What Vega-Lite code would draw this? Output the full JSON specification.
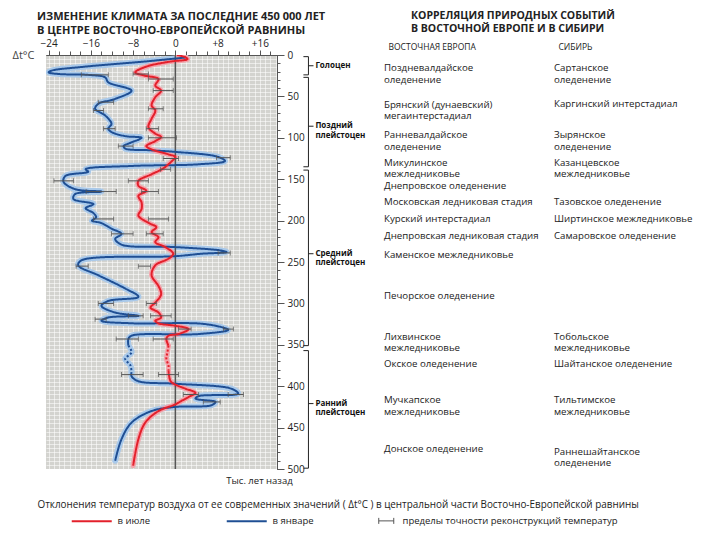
{
  "$schema": "https://vega.github.io/schema/vega-lite/v6.json",
  "background": "white",
  "padding": {"left": 12, "top": 10, "right": 5, "bottom": 5},
  "bounds": "flush",
  "spacing": 22,
  "config": {
    "font": "Open Sans",
    "view": {"stroke": null},
    "axis": {"labelFont": "Open Sans", "titleFont": "Open Sans", "domainColor": "#555", "tickColor": "#555", "labelColor": "#222", "titleColor": "#222"},
    "title": {"font": "Open Sans", "color": "#222"},
    "legend": {"labelFont": "Open Sans", "labelColor": "#222"}
  },
  "datasets": {
    "curves": [
      {"s": "в январе", "a": 3, "t": 2.0, "p": 1}, {"s": "в январе", "a": 8, "t": -6, "p": 1}, {"s": "в январе", "a": 14, "t": -17, "p": 1}, {"s": "в январе", "a": 19, "t": -23.5, "p": 1}, {"s": "в январе", "a": 21, "t": -24, "p": 1}, {"s": "в январе", "a": 23, "t": -22, "p": 1}, {"s": "в январе", "a": 24, "t": -16.5, "p": 1}, {"s": "в январе", "a": 27, "t": -13.3, "p": 1}, {"s": "в январе", "a": 33, "t": -12.7, "p": 1}, {"s": "в январе", "a": 43, "t": -8.3, "p": 1}, {"s": "в январе", "a": 53, "t": -11.4, "p": 1}, {"s": "в январе", "a": 59, "t": -14.6, "p": 1}, {"s": "в январе", "a": 65, "t": -15.2, "p": 1}, {"s": "в январе", "a": 73, "t": -13.3, "p": 1}, {"s": "в январе", "a": 83, "t": -12.1, "p": 1}, {"s": "в январе", "a": 89, "t": -12.7, "p": 1}, {"s": "в январе", "a": 93, "t": -12.1, "p": 1}, {"s": "в январе", "a": 98, "t": -9.5, "p": 1}, {"s": "в январе", "a": 100, "t": -6.4, "p": 1}, {"s": "в январе", "a": 106, "t": -8.5, "p": 1}, {"s": "в январе", "a": 110, "t": -9.8, "p": 1}, {"s": "в январе", "a": 113, "t": -9.5, "p": 1}, {"s": "в январе", "a": 115, "t": -5, "p": 1}, {"s": "в январе", "a": 117, "t": 0, "p": 1}, {"s": "в январе", "a": 123, "t": 8.1, "p": 1}, {"s": "в январе", "a": 128, "t": 9.4, "p": 1}, {"s": "в январе", "a": 132, "t": 4.4, "p": 1}, {"s": "в январе", "a": 134, "t": -8.3, "p": 1}, {"s": "в январе", "a": 138, "t": -17, "p": 1}, {"s": "в январе", "a": 141, "t": -16.5, "p": 1}, {"s": "в январе", "a": 146, "t": -20.8, "p": 1}, {"s": "в январе", "a": 153, "t": -21.2, "p": 1}, {"s": "в январе", "a": 162, "t": -19, "p": 1}, {"s": "в январе", "a": 165, "t": -14, "p": 1}, {"s": "в январе", "a": 168, "t": -19, "p": 1}, {"s": "в январе", "a": 174, "t": -19.3, "p": 1}, {"s": "в январе", "a": 180, "t": -15.5, "p": 1}, {"s": "в январе", "a": 185, "t": -17, "p": 1}, {"s": "в январе", "a": 191, "t": -15.5, "p": 1}, {"s": "в январе", "a": 196, "t": -15, "p": 1}, {"s": "в январе", "a": 200, "t": -15.8, "p": 1}, {"s": "в январе", "a": 203, "t": -14, "p": 1}, {"s": "в январе", "a": 210, "t": -12, "p": 1}, {"s": "в январе", "a": 216, "t": -10.2, "p": 1}, {"s": "в январе", "a": 222, "t": -11.4, "p": 1}, {"s": "в январе", "a": 229, "t": -10.2, "p": 1}, {"s": "в январе", "a": 232, "t": 0, "p": 1}, {"s": "в январе", "a": 236, "t": 8.5, "p": 1}, {"s": "в январе", "a": 238, "t": 9.7, "p": 1}, {"s": "в январе", "a": 240, "t": 5, "p": 1}, {"s": "в январе", "a": 243, "t": 0, "p": 1}, {"s": "в январе", "a": 248, "t": -17.8, "p": 1}, {"s": "в январе", "a": 254, "t": -18.4, "p": 1}, {"s": "в январе", "a": 266, "t": -14.6, "p": 1}, {"s": "в январе", "a": 282, "t": -9.5, "p": 1}, {"s": "в январе", "a": 292, "t": -7, "p": 1}, {"s": "в январе", "a": 297, "t": -12.7, "p": 1}, {"s": "в январе", "a": 303, "t": -14, "p": 1}, {"s": "в январе", "a": 311, "t": -11.4, "p": 1}, {"s": "в январе", "a": 315, "t": -7, "p": 1}, {"s": "в январе", "a": 317, "t": -12.7, "p": 1}, {"s": "в январе", "a": 321, "t": -14, "p": 1}, {"s": "в январе", "a": 324, "t": -8.3, "p": 1}, {"s": "в январе", "a": 325, "t": 5.7, "p": 1}, {"s": "в январе", "a": 332, "t": 10, "p": 1}, {"s": "в январе", "a": 337, "t": 4.4, "p": 1}, {"s": "в январе", "a": 339, "t": -8.3, "p": 1}, {"s": "в январе", "a": 343, "t": -8.9, "p": 1}, {"s": "в январе", "a": 351, "t": -8.9, "p": 1},
      {"s": "в январе", "a": 351, "t": -8.9, "p": 2}, {"s": "в январе", "a": 359, "t": -8.3, "p": 2}, {"s": "в январе", "a": 367, "t": -9.5, "p": 2}, {"s": "в январе", "a": 375, "t": -8.5, "p": 2}, {"s": "в январе", "a": 383, "t": -8.3, "p": 2},
      {"s": "в январе", "a": 383, "t": -8.3, "p": 3}, {"s": "в январе", "a": 388, "t": -8.3, "p": 3}, {"s": "в январе", "a": 394, "t": -7, "p": 3}, {"s": "в январе", "a": 397, "t": 0, "p": 3}, {"s": "в январе", "a": 403, "t": 10.6, "p": 3}, {"s": "в январе", "a": 409, "t": 11.9, "p": 3}, {"s": "в январе", "a": 412, "t": 4.4, "p": 3}, {"s": "в январе", "a": 415, "t": 3.8, "p": 3}, {"s": "в январе", "a": 419, "t": 7.6, "p": 3}, {"s": "в январе", "a": 423, "t": 6.8, "p": 3}, {"s": "в январе", "a": 425, "t": 0, "p": 3}, {"s": "в январе", "a": 430, "t": -4.5, "p": 3}, {"s": "в январе", "a": 444, "t": -8.3, "p": 3}, {"s": "в январе", "a": 464, "t": -10.2, "p": 3}, {"s": "в январе", "a": 490, "t": -11.4, "p": 3},
      {"s": "в июле", "a": 0, "t": 0.3, "p": 1}, {"s": "в июле", "a": 3, "t": 2, "p": 1}, {"s": "в июле", "a": 5, "t": 2.3, "p": 1}, {"s": "в июле", "a": 8, "t": -1, "p": 1}, {"s": "в июле", "a": 14, "t": -5.5, "p": 1}, {"s": "в июле", "a": 21, "t": -7.6, "p": 1}, {"s": "в июле", "a": 25, "t": -5.7, "p": 1}, {"s": "в июле", "a": 29, "t": -3.2, "p": 1}, {"s": "в июле", "a": 37, "t": -3.8, "p": 1}, {"s": "в июле", "a": 43, "t": -2.7, "p": 1}, {"s": "в июле", "a": 51, "t": -3.8, "p": 1}, {"s": "в июле", "a": 61, "t": -4.5, "p": 1}, {"s": "в июле", "a": 67, "t": -3.8, "p": 1}, {"s": "в июле", "a": 77, "t": -4.5, "p": 1}, {"s": "в июле", "a": 87, "t": -5.1, "p": 1}, {"s": "в июле", "a": 95, "t": -3.8, "p": 1}, {"s": "в июле", "a": 99, "t": -2.7, "p": 1}, {"s": "в июле", "a": 104, "t": -3.8, "p": 1}, {"s": "в июле", "a": 110, "t": -5.5, "p": 1}, {"s": "в июле", "a": 114, "t": -4.5, "p": 1}, {"s": "в июле", "a": 120, "t": -1.3, "p": 1}, {"s": "в июле", "a": 123, "t": 0, "p": 1}, {"s": "в июле", "a": 129, "t": -0.8, "p": 1}, {"s": "в июле", "a": 137, "t": -2.3, "p": 1}, {"s": "в июле", "a": 144, "t": -4.5, "p": 1}, {"s": "в июле", "a": 152, "t": -7, "p": 1}, {"s": "в июле", "a": 158, "t": -7, "p": 1}, {"s": "в июле", "a": 164, "t": -5.5, "p": 1}, {"s": "в июле", "a": 170, "t": -7, "p": 1}, {"s": "в июле", "a": 178, "t": -6.4, "p": 1}, {"s": "в июле", "a": 186, "t": -6.4, "p": 1}, {"s": "в июле", "a": 194, "t": -7, "p": 1}, {"s": "в июле", "a": 203, "t": -5, "p": 1}, {"s": "в июле", "a": 208, "t": -3.6, "p": 1}, {"s": "в июле", "a": 214, "t": -4.5, "p": 1}, {"s": "в июле", "a": 220, "t": -3.2, "p": 1}, {"s": "в июле", "a": 226, "t": -3.8, "p": 1}, {"s": "в июле", "a": 232, "t": -1.9, "p": 1}, {"s": "в июле", "a": 240, "t": -0.4, "p": 1}, {"s": "в июле", "a": 246, "t": -1.3, "p": 1}, {"s": "в июле", "a": 254, "t": -3.8, "p": 1}, {"s": "в июле", "a": 266, "t": -4.5, "p": 1}, {"s": "в июле", "a": 279, "t": -3.2, "p": 1}, {"s": "в июле", "a": 289, "t": -2.7, "p": 1}, {"s": "в июле", "a": 299, "t": -3.8, "p": 1}, {"s": "в июле", "a": 305, "t": -4.7, "p": 1}, {"s": "в июле", "a": 311, "t": -3.2, "p": 1}, {"s": "в июле", "a": 317, "t": -2.7, "p": 1}, {"s": "в июле", "a": 321, "t": -3.8, "p": 1}, {"s": "в июле", "a": 324, "t": -3.2, "p": 1}, {"s": "в июле", "a": 327, "t": 0, "p": 1}, {"s": "в июле", "a": 331, "t": 2.5, "p": 1}, {"s": "в июле", "a": 337, "t": 0.6, "p": 1}, {"s": "в июле", "a": 339, "t": -1.3, "p": 1}, {"s": "в июле", "a": 343, "t": -1.7, "p": 1}, {"s": "в июле", "a": 351, "t": -1.3, "p": 1},
      {"s": "в июле", "a": 351, "t": -1.3, "p": 2}, {"s": "в июле", "a": 359, "t": -1.5, "p": 2}, {"s": "в июле", "a": 367, "t": -1.7, "p": 2}, {"s": "в июле", "a": 375, "t": -1.3, "p": 2}, {"s": "в июле", "a": 381, "t": -1.3, "p": 2},
      {"s": "в июле", "a": 381, "t": -1.3, "p": 3}, {"s": "в июле", "a": 394, "t": -0.9, "p": 3}, {"s": "в июле", "a": 398, "t": 0, "p": 3}, {"s": "в июле", "a": 403, "t": 1.9, "p": 3}, {"s": "в июле", "a": 408, "t": 3.8, "p": 3}, {"s": "в июле", "a": 413, "t": 2.5, "p": 3}, {"s": "в июле", "a": 418, "t": 1.1, "p": 3}, {"s": "в июле", "a": 422, "t": 0, "p": 3}, {"s": "в июле", "a": 430, "t": -3.2, "p": 3}, {"s": "в июле", "a": 444, "t": -5.7, "p": 3}, {"s": "в июле", "a": 464, "t": -7, "p": 3}, {"s": "в июле", "a": 496, "t": -8, "p": 3}
    ],
    "bars": [
      {"s": "в январе", "a": 24, "lo": -17.8, "hi": -12.7}, {"s": "в январе", "a": 57, "lo": -14.6, "hi": -11.7}, {"s": "в январе", "a": 67, "lo": -15.5, "hi": -13.6}, {"s": "в январе", "a": 89, "lo": -13.6, "hi": -11.4}, {"s": "в январе", "a": 110, "lo": -10.8, "hi": -8}, {"s": "в январе", "a": 124, "lo": 7.8, "hi": 10.4}, {"s": "в январе", "a": 152, "lo": -23, "hi": -19.3}, {"s": "в январе", "a": 165, "lo": -16.9, "hi": -11.2}, {"s": "в январе", "a": 198, "lo": -15.5, "hi": -11.7}, {"s": "в январе", "a": 216, "lo": -12.1, "hi": -8}, {"s": "в январе", "a": 239, "lo": 8.1, "hi": 10.4}, {"s": "в январе", "a": 255, "lo": -18.8, "hi": -16.5}, {"s": "в январе", "a": 300, "lo": -14.6, "hi": -11.7}, {"s": "в январе", "a": 315, "lo": -8.9, "hi": -6.1}, {"s": "в январе", "a": 319, "lo": -15.2, "hi": -13.1}, {"s": "в январе", "a": 331, "lo": 9.1, "hi": 11}, {"s": "в январе", "a": 343, "lo": -11.2, "hi": -7}, {"s": "в январе", "a": 386, "lo": -10.2, "hi": -6.1}, {"s": "в январе", "a": 410, "lo": 10, "hi": 12.9}, {"s": "в январе", "a": 419, "lo": 5.3, "hi": 8.5},
      {"s": "в июле", "a": 23, "lo": -8, "hi": -5.1}, {"s": "в июле", "a": 29, "lo": -5.1, "hi": -0.4}, {"s": "в июле", "a": 43, "lo": -4.2, "hi": -0.4}, {"s": "в июле", "a": 65, "lo": -5.1, "hi": -2.3}, {"s": "в июле", "a": 89, "lo": -5.5, "hi": -3.2}, {"s": "в июле", "a": 100, "lo": -5.1, "hi": 0.2}, {"s": "в июле", "a": 125, "lo": -2.3, "hi": 0.6}, {"s": "в июле", "a": 138, "lo": -2.8, "hi": -0.9}, {"s": "в июле", "a": 152, "lo": -8.9, "hi": -5.1}, {"s": "в июле", "a": 165, "lo": -6.4, "hi": -3.2}, {"s": "в июле", "a": 198, "lo": -5.1, "hi": -1.3}, {"s": "в июле", "a": 216, "lo": -5.5, "hi": -2.3}, {"s": "в июле", "a": 255, "lo": -7, "hi": -4.7}, {"s": "в июле", "a": 300, "lo": -5.5, "hi": -3.6}, {"s": "в июле", "a": 315, "lo": -4.7, "hi": -0.8}, {"s": "в июле", "a": 331, "lo": 0.6, "hi": 3}, {"s": "в июле", "a": 343, "lo": -4.2, "hi": -0.4}, {"s": "в июле", "a": 386, "lo": -3.2, "hi": 0.6}, {"s": "в июле", "a": 410, "lo": 1.5, "hi": 4.4}
    ],
    "periods": [
      {"period": ["Голоцен"], "start": 2, "end": 24, "tip": 13},
      {"period": ["Поздний", "плейстоцен"], "start": 27, "end": 135, "tip": 86},
      {"period": ["Средний", "плейстоцен"], "start": 139, "end": 351, "tip": 240},
      {"period": ["Ранний", "плейстоцен"], "start": 357, "end": 499, "tip": 421}
    ],
    "events": [
      {"region": "ВОСТОЧНАЯ ЕВРОПА", "a": 16, "name": ["Поздневалдайское", "оледенение"]},
      {"region": "ВОСТОЧНАЯ ЕВРОПА", "a": 60, "name": ["Брянский (дунаевский)", "мегаинтерстадиал"]},
      {"region": "ВОСТОЧНАЯ ЕВРОПА", "a": 97, "name": ["Ранневалдайское", "оледенение"]},
      {"region": "ВОСТОЧНАЯ ЕВРОПА", "a": 130, "name": ["Микулинское", "межледниковье"]},
      {"region": "ВОСТОЧНАЯ ЕВРОПА", "a": 158, "name": ["Днепровское оледенение"]},
      {"region": "ВОСТОЧНАЯ ЕВРОПА", "a": 178, "name": ["Московская ледниковая стадия"]},
      {"region": "ВОСТОЧНАЯ ЕВРОПА", "a": 198.5, "name": ["Курский интерстадиал"]},
      {"region": "ВОСТОЧНАЯ ЕВРОПА", "a": 219, "name": ["Днепровская ледниковая стадия"]},
      {"region": "ВОСТОЧНАЯ ЕВРОПА", "a": 241.5, "name": ["Каменское межледниковье"]},
      {"region": "ВОСТОЧНАЯ ЕВРОПА", "a": 291, "name": ["Печорское оледенение"]},
      {"region": "ВОСТОЧНАЯ ЕВРОПА", "a": 340, "name": ["Лихвинское", "межледниковье"]},
      {"region": "ВОСТОЧНАЯ ЕВРОПА", "a": 373, "name": ["Окское оледенение"]},
      {"region": "ВОСТОЧНАЯ ЕВРОПА", "a": 417, "name": ["Мучкапское", "межледниковье"]},
      {"region": "ВОСТОЧНАЯ ЕВРОПА", "a": 476, "name": ["Донское оледенение"]},
      {"region": "СИБИРЬ", "a": 16, "name": ["Сартанское", "оледенение"]},
      {"region": "СИБИРЬ", "a": 59, "name": ["Каргинский интерстадиал"]},
      {"region": "СИБИРЬ", "a": 97, "name": ["Зырянское", "оледенение"]},
      {"region": "СИБИРЬ", "a": 130, "name": ["Казанцевское", "межледниковье"]},
      {"region": "СИБИРЬ", "a": 178, "name": ["Тазовское оледенение"]},
      {"region": "СИБИРЬ", "a": 198.5, "name": ["Ширтинское межледниковье"]},
      {"region": "СИБИРЬ", "a": 219, "name": ["Самаровское оледенение"]},
      {"region": "СИБИРЬ", "a": 340, "name": ["Тобольское", "межледниковье"]},
      {"region": "СИБИРЬ", "a": 373, "name": ["Шайтанское оледенение"]},
      {"region": "СИБИРЬ", "a": 417, "name": ["Тильтимское", "межледниковье"]},
      {"region": "СИБИРЬ", "a": 479, "name": ["Раннешайтанское", "оледенение"]}
    ]
  },
  "hconcat": [
    {
      "width": 231,
      "height": 414,
      "view": {"fill": "#d3d3cf", "stroke": null},
      "title": {"text": ["ИЗМЕНЕНИЕ КЛИМАТА ЗА ПОСЛЕДНИЕ 450 000 ЛЕТ", "В ЦЕНТРЕ ВОСТОЧНО-ЕВРОПЕЙСКОЙ РАВНИНЫ"], "anchor": "start", "frame": "group", "dx": -9, "fontSize": 11, "fontWeight": "bold", "lineHeight": 14, "offset": 2},
      "resolve": {"axis": {"x": "independent", "y": "independent"}},
      "layer": [
        {
          "data": {"name": "curves"},
          "transform": [{"filter": "datum.s === 'в январе'"}],
          "mark": {"type": "line", "interpolate": "catmull-rom", "strokeWidth": 6, "color": "#a9c9ea", "strokeCap": "round", "clip": true},
          "encoding": {
            "x": {"field": "t", "type": "quantitative", "scale": {"domain": [-24.5, 19.25], "nice": false, "zero": false},
              "axis": {"orient": "top", "values": [-24,-23,-22,-21,-20,-19,-18,-17,-16,-15,-14,-13,-12,-11,-10,-9,-8,-7,-6,-5,-4,-3,-2,-1,0,1,2,3,4,5,6,7,8,9,10,11,12,13,14,15,16,17,18,19], "grid": true, "gridColor": "#ffffff", "gridOpacity": 0.55, "gridWidth": 1, "ticks": false, "labels": false, "domain": false, "title": null}},
            "y": {"field": "a", "type": "quantitative", "scale": {"domain": [0, 500], "reverse": true, "nice": false, "zero": false},
              "axis": {"orient": "right", "values": [0,5,10,15,20,25,30,35,40,45,50,55,60,65,70,75,80,85,90,95,100,105,110,115,120,125,130,135,140,145,150,155,160,165,170,175,180,185,190,195,200,205,210,215,220,225,230,235,240,245,250,255,260,265,270,275,280,285,290,295,300,305,310,315,320,325,330,335,340,345,350,355,360,365,370,375,380,385,390,395,400,405,410,415,420,425,430,435,440,445,450,455,460,465,470,475,480,485,490,495,500], "grid": true, "gridColor": "#ffffff", "gridOpacity": 0.55, "gridWidth": 1, "ticks": false, "labels": false, "domain": false, "title": null}},
            "detail": {"field": "p", "type": "nominal"},
            "order": {"field": "a", "type": "quantitative"}
          }
        },
        {
          "data": {"name": "curves"},
          "transform": [{"filter": "datum.s === 'в июле'"}],
          "mark": {"type": "line", "interpolate": "catmull-rom", "strokeWidth": 5, "color": "#f4a3ab", "strokeCap": "round", "clip": true},
          "encoding": {
            "x": {"field": "t", "type": "quantitative",
              "axis": {"orient": "top", "values": [-24,-22,-20,-18,-16,-14,-12,-10,-8,-6,-4,-2,0,2,4,6,8,10,12,14,16,18], "grid": false, "ticks": true, "tickSize": 4, "labels": false, "domain": true, "title": null}},
            "y": {"field": "a", "type": "quantitative",
              "axis": {"orient": "right", "values": [0,10,20,30,40,50,60,70,80,90,100,110,120,130,140,150,160,170,180,190,200,210,220,230,240,250,260,270,280,290,300,310,320,330,340,350,360,370,380,390,400,410,420,430,440,450,460,470,480,490,500], "grid": false, "ticks": true, "tickSize": 3, "labels": false, "domain": true, "title": null}},
            "detail": {"field": "p", "type": "nominal"},
            "order": {"field": "a", "type": "quantitative"}
          }
        },
        {
          "data": {"values": [{"t": 0}]},
          "mark": {"type": "rule", "color": "#555555", "strokeWidth": 1.5},
          "encoding": {
            "x": {"field": "t", "type": "quantitative",
              "axis": {"orient": "top", "values": [-24, -16, -8, 0, 8, 16], "tickSize": 5, "labelFontSize": 10, "labelPadding": 2, "labelExpr": "datum.value > 0 ? '+' + datum.value : datum.label", "grid": false, "domain": true,
                "title": "Δt°C", "titleX": -23, "titleY": 0, "titleAlign": "center", "titleBaseline": "middle", "titleAngle": 0, "titleFontSize": 11, "titleFontWeight": "normal", "titleColor": "#444"}}
          }
        },
        {
          "data": {"name": "curves"},
          "mark": {"type": "line", "interpolate": "catmull-rom", "strokeWidth": 2, "clip": true},
          "encoding": {
            "x": {"field": "t", "type": "quantitative",
              "axis": {"orient": "bottom", "domain": false, "ticks": false, "labels": false, "grid": false,
                "title": "Отклонения температур воздуха от ее современных значений ( Δt°C ) в центральной части Восточно-Европейской равнины",
                "titleX": -9, "titleY": 35, "titleAlign": "left", "titleAnchor": "start", "titleBaseline": "middle", "titleFontSize": 9.9, "titleFontWeight": "normal", "titleLimit": 700}},
            "y": {"field": "a", "type": "quantitative",
              "axis": {"orient": "right", "values": [0,50,100,150,200,250,300,350,400,450,500], "tickSize": 7, "labelFontSize": 10, "labelPadding": 3, "grid": false, "domain": true,
                "title": "Тыс. лет назад", "titleAngle": 0, "titleX": -18, "titleY": 425, "titleAlign": "center", "titleBaseline": "middle", "titleFontSize": 9.5, "titleFontWeight": "normal"}},
            "color": {"field": "s", "type": "nominal",
              "scale": {"domain": ["в июле", "в январе", "пределы точности реконструкций температур"], "range": ["#e3202b", "#1f4f94", "#555555"]},
              "legend": {"orient": "none", "legendX": 41, "legendY": 461, "direction": "horizontal", "title": null,
                "symbolType": "stroke", "symbolSize": 1600, "symbolStrokeWidth": 2, "labelFontSize": 9.5, "labelOffset": 7, "columnPadding": 62, "labelLimit": 400,
                "encode": {
                  "symbols": {"update": {
                    "shape": {"signal": "datum.value === 'пределы точности реконструкций температур' ? 'M-1.65,0H-0.9M-1.65,-0.15V0.15M-0.9,-0.15V0.15' : (datum.value === 'в январе' ? 'M-1.45,0M-1,0H1' : 'stroke')"},
                    "strokeWidth": {"signal": "datum.value === 'пределы точности реконструкций температур' ? 1 : 2"}}},
                  "labels": {"update": {"dx": {"signal": "datum.value === 'пределы точности реконструкций температур' ? -21 : 14"}}}
                }}},
            "strokeDash": {"field": "p", "type": "nominal", "scale": {"domain": [1, 2, 3], "range": [[1, 0], [2, 2], [1, 0]]}, "legend": null},
            "detail": {"field": "p", "type": "nominal"},
            "order": {"field": "a", "type": "quantitative"}
          }
        },
        {
          "data": {"name": "bars"},
          "mark": {"type": "errorbar", "ticks": {"size": 5, "thickness": 1}, "rule": {"strokeWidth": 1}},
          "encoding": {
            "x": {"field": "lo", "type": "quantitative", "axis": null},
            "x2": {"field": "hi"},
            "y": {"field": "a", "type": "quantitative", "axis": null},
            "color": {"datum": "пределы точности реконструкций температур"}
          }
        }
      ]
    },
    {
      "width": 63,
      "height": 414,
      "data": {"name": "periods"},
      "encoding": {
        "y": {"field": "start", "type": "quantitative", "scale": {"domain": [0, 500], "reverse": true, "nice": false, "zero": false}, "axis": null}
      },
      "layer": [
        {
          "mark": {"type": "rule", "color": "#222", "strokeWidth": 1},
          "encoding": {
            "x": {"datum": 0.15, "type": "quantitative", "scale": {"domain": [0, 1], "nice": false, "zero": false}, "axis": null},
            "y2": {"field": "end"}
          }
        },
        {
          "mark": {"type": "rule", "color": "#222", "strokeWidth": 1},
          "encoding": {
            "x": {"datum": 0.07, "type": "quantitative"},
            "x2": {"datum": 0.15}
          }
        },
        {
          "mark": {"type": "rule", "color": "#222", "strokeWidth": 1},
          "encoding": {
            "x": {"datum": 0.07, "type": "quantitative"},
            "x2": {"datum": 0.15},
            "y": {"field": "end", "type": "quantitative"}
          }
        },
        {
          "mark": {"type": "rule", "color": "#222", "strokeWidth": 1},
          "encoding": {
            "x": {"datum": 0.15, "type": "quantitative"},
            "x2": {"datum": 0.23},
            "y": {"field": "tip", "type": "quantitative"}
          }
        },
        {
          "mark": {"type": "text", "align": "left", "baseline": "middle", "fontSize": 8, "fontWeight": "bold", "lineHeight": 9.5, "color": "#111"},
          "encoding": {
            "x": {"datum": 0.26, "type": "quantitative"},
            "y": {"field": "tip", "type": "quantitative"},
            "text": {"field": "period"}
          }
        }
      ]
    },
    {
      "width": 170,
      "height": 414,
      "title": {"text": ["КОРРЕЛЯЦИЯ ПРИРОДНЫХ СОБЫТИЙ", "В ВОСТОЧНОЙ ЕВРОПЕ И В СИБИРИ"], "anchor": "start", "frame": "group", "dx": 27, "fontSize": 10.5, "fontWeight": "bold", "lineHeight": 13, "offset": 8},
      "data": {"name": "events"},
      "mark": {"type": "text", "align": "left", "baseline": "middle", "fontSize": 9.7, "lineHeight": 11.5, "color": "#222"},
      "encoding": {
        "x": {"field": "region", "type": "nominal", "scale": {"type": "point", "padding": 0, "domain": ["ВОСТОЧНАЯ ЕВРОПА", "СИБИРЬ"]},
          "axis": {"orient": "top", "domain": false, "ticks": false, "labelAngle": 0, "labelAlign": "left", "labelOffset": 4, "labelPadding": 4, "labelFontSize": 8.5, "title": null}},
        "y": {"field": "a", "type": "quantitative", "scale": {"domain": [0, 500], "reverse": true, "nice": false, "zero": false}, "axis": null},
        "text": {"field": "name"}
      }
    }
  ]
}
